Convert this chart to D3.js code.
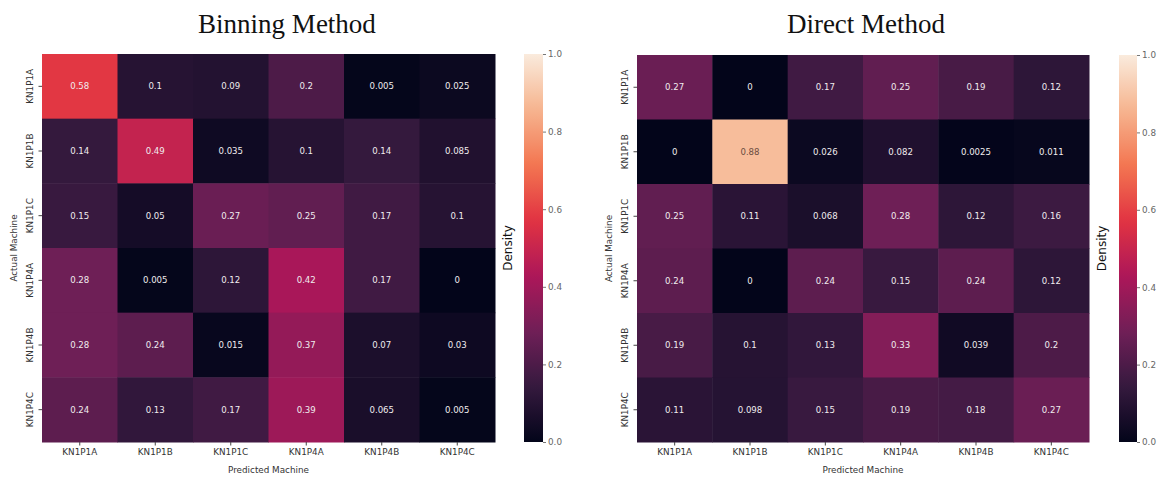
<!DOCTYPE html>
<html>
<head>
<meta charset="utf-8">
<script src="https://cdn.jsdelivr.net/npm/d3@7"></script>
<style>
  html, body { margin: 0; padding: 0; background: #fff; }
  svg { display: block; }
</style>
</head>
<body>
<svg id="chart" width="1166" height="478"></svg>
<script>
// Machine labels shared by both confusion matrices
const machines = ["KN1P1A", "KN1P1B", "KN1P1C", "KN1P4A", "KN1P4B", "KN1P4C"];

// Rows = actual machine, columns = predicted machine
const binningValues = [
  [0.58, 0.1, 0.09, 0.2, 0.005, 0.025],
  [0.14, 0.49, 0.035, 0.1, 0.14, 0.085],
  [0.15, 0.05, 0.27, 0.25, 0.17, 0.1],
  [0.28, 0.005, 0.12, 0.42, 0.17, 0],
  [0.28, 0.24, 0.015, 0.37, 0.07, 0.03],
  [0.24, 0.13, 0.17, 0.39, 0.065, 0.005]
];

const directValues = [
  [0.27, 0, 0.17, 0.25, 0.19, 0.12],
  [0, 0.88, 0.026, 0.082, 0.0025, 0.011],
  [0.25, 0.11, 0.068, 0.28, 0.12, 0.16],
  [0.24, 0, 0.24, 0.15, 0.24, 0.12],
  [0.19, 0.1, 0.13, 0.33, 0.039, 0.2],
  [0.11, 0.098, 0.15, 0.19, 0.18, 0.27]
];

const colorbarTicks = [0, 0.2, 0.4, 0.6, 0.8, 1.0];

const titles = ["Binning Method", "Direct Method"];
const xTitle = "Predicted Machine";
const yTitle = "Actual Machine";
const cbarTitle = "Density";

// "rocket"-style sequential colormap
const rocketStops = ["#03051a", "#35193e", "#701f57", "#ad1759", "#e13342", "#f37651", "#f6b48f", "#faebdd"];
const color = d3.scaleLinear()
  .domain(rocketStops.map((_, i) => i / (rocketStops.length - 1)))
  .range(rocketStops)
  .interpolate(d3.interpolateRgb)
  .clamp(true);

const svg = d3.select("#chart");
const defs = svg.append("defs");

const grad = defs.append("linearGradient")
  .attr("id", "cbarGrad")
  .attr("x1", 0).attr("y1", 1).attr("x2", 0).attr("y2", 0);
d3.range(0, 1.0001, 0.02).forEach(t => {
  grad.append("stop").attr("offset", t).attr("stop-color", color(t));
});

const fmtCell = v => String(v);

function drawPanel(opt) {
  const { values, title, left, right, top, bottom, cbarLeft, cbarWidth } = opt;
  const g = svg.append("g");

  const x = d3.scaleBand().domain(machines).range([left, right]);
  const y = d3.scaleBand().domain(machines).range([top, bottom]);

  const cells = [];
  values.forEach((row, i) => row.forEach((v, j) => cells.push({ r: machines[i], c: machines[j], v })));

  g.selectAll("rect.cell").data(cells).join("rect")
    .attr("class", "cell")
    .attr("x", d => x(d.c))
    .attr("y", d => y(d.r))
    .attr("width", x.bandwidth() + 0.5)
    .attr("height", y.bandwidth() + 0.5)
    .attr("fill", d => color(d.v));

  g.selectAll("text.ann").data(cells).join("text")
    .attr("class", "ann")
    .attr("x", d => x(d.c) + x.bandwidth() / 2)
    .attr("y", d => y(d.r) + y.bandwidth() / 2)
    .attr("text-anchor", "middle")
    .attr("dominant-baseline", "central")
    .attr("font-family", "DejaVu Sans")
    .attr("font-size", 8.6)
    .attr("fill", d => {
      const c = d3.rgb(color(d.v));
      const lum = 0.2126 * c.r + 0.7152 * c.g + 0.0722 * c.b;
      return lum > 150 ? "#6b4c40" : "#f0ecee";
    })
    .text(d => fmtCell(d.v));

  // Bottom axis
  const xAxis = g.append("g")
    .attr("transform", `translate(0,${bottom})`)
    .call(d3.axisBottom(x).tickSize(3.5).tickPadding(3));
  xAxis.select(".domain").remove();
  xAxis.selectAll("line").attr("stroke", "#444");
  xAxis.selectAll("text")
    .attr("font-family", "DejaVu Sans").attr("font-size", 8.8).attr("fill", "#333");

  // Left axis with rotated labels
  const yAxis = g.append("g")
    .attr("transform", `translate(${left},0)`)
    .call(d3.axisLeft(y).tickSize(3.5).tickPadding(3));
  yAxis.select(".domain").remove();
  yAxis.selectAll("line").attr("stroke", "#444");
  yAxis.selectAll("text")
    .attr("font-family", "DejaVu Sans").attr("font-size", 8.8).attr("fill", "#333")
    .attr("x", null).attr("dy", null)
    .attr("text-anchor", "middle")
    .attr("transform", `translate(-9,0) rotate(-90)`);

  // Axis titles
  g.append("text")
    .attr("x", (left + right) / 2).attr("y", bottom + 31)
    .attr("text-anchor", "middle")
    .attr("font-family", "DejaVu Sans").attr("font-size", 8.8).attr("fill", "#333")
    .text(xTitle);
  g.append("text")
    .attr("transform", `translate(${left - 25},${(top + bottom) / 2}) rotate(-90)`)
    .attr("text-anchor", "middle")
    .attr("font-family", "DejaVu Sans").attr("font-size", 8.8).attr("fill", "#333")
    .text(yTitle);

  // Panel title
  g.append("text")
    .attr("x", opt.titleX).attr("y", 33)
    .attr("text-anchor", "middle")
    .attr("font-family", "Liberation Serif").attr("font-size", 27).attr("fill", "#111")
    .text(title);

  // Colorbar
  const cs = d3.scaleLinear().domain([0, 1]).range([bottom, top]);
  g.append("rect")
    .attr("x", cbarLeft).attr("y", top)
    .attr("width", cbarWidth).attr("height", bottom - top)
    .attr("fill", "url(#cbarGrad)");
  const cAxis = g.append("g")
    .attr("transform", `translate(${cbarLeft + cbarWidth},0)`)
    .call(d3.axisRight(cs).tickValues(colorbarTicks).tickFormat(d3.format(".1f")).tickSize(3).tickPadding(2));
  cAxis.select(".domain").remove();
  cAxis.selectAll("line").attr("stroke", "#777");
  cAxis.selectAll("text")
    .attr("font-family", "DejaVu Sans").attr("font-size", 8.8).attr("fill", "#666");

  g.append("text")
    .attr("transform", `translate(${right + 17},${(top + bottom) / 2}) rotate(-90)`)
    .attr("text-anchor", "middle")
    .attr("font-family", "DejaVu Sans").attr("font-size", 12).attr("fill", "#111")
    .text(cbarTitle);
}

drawPanel({ values: binningValues, title: titles[0], left: 42, right: 495, top: 54, bottom: 442,
  cbarLeft: 524, cbarWidth: 19, titleX: 287 });
drawPanel({ values: directValues, title: titles[1], left: 637, right: 1089, top: 55, bottom: 442,
  cbarLeft: 1119, cbarWidth: 18, titleX: 866 });
</script>
</body>
</html>
